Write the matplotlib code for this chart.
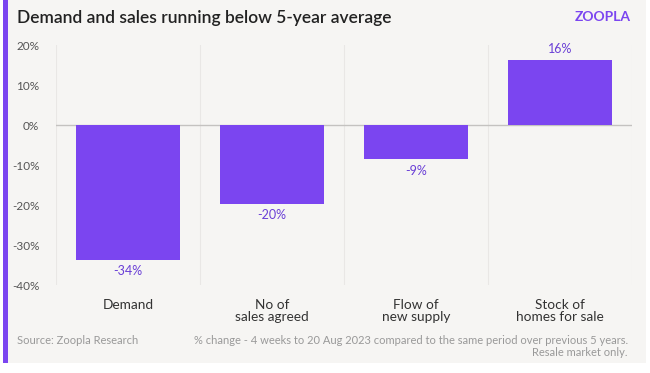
import matplotlib
matplotlib.use("Agg")
import matplotlib.pyplot as plt
from matplotlib.patches import Rectangle

categories = ["Demand", "No of\nsales agreed", "Flow of\nnew supply", "Stock of\nhomes for sale"]
values = [-33.7, -19.7, -8.6, 16.3]
yticks = [20, 10, 0, -10, -20, -30, -40]

plt.rcParams['font.family'] = ['Lato', 'DejaVu Sans']

W, H = 650, 373
fig = plt.figure(figsize=(W/100, H/100), dpi=100)
fig.patch.set_facecolor("white")

bg = "#f6f5f3"
purple = "#7b45f0"
fig.add_artist(Rectangle((3/W, 10/H), 643/W, 1 - 10/H, transform=fig.transFigure,
                         facecolor=bg, edgecolor="none", zorder=-10))
fig.add_artist(Rectangle((3/W, 10/H), 5/W, 1 - 10/H, transform=fig.transFigure,
                         facecolor=purple, edgecolor="none", zorder=-9))

ax = fig.add_axes([56/W, 1 - 285/H, 576/W, 240/H])
ax.set_zorder(5)
ax.set_facecolor("none")
x = list(range(len(categories)))
ax.bar(x, values, width=0.72, color=purple, zorder=3)
ax.set_xlim(-0.5, len(categories) - 0.5)
ax.set_ylim(-40, 20)
ax.axhline(0, color="#c4c2c0", lw=1, zorder=2)
for b in [i - 0.5 for i in range(len(categories) + 1)]:
    ax.axvline(b, color="#e9e7e5", lw=0.8, zorder=1)

for xi, v in zip(x, values):
    if v < 0:
        ax.text(xi, v - 1.3, f"{v:.0f}%", ha="center", va="top", color="#6a3fd6", fontsize=9)
    else:
        ax.text(xi, v + 1.3, f"{v:.0f}%", ha="center", va="bottom", color="#6a3fd6", fontsize=9)

ax.set_yticks(yticks)
ax.set_yticklabels([f"{t}%" for t in yticks], color="#555555", fontsize=8.5)
ax.set_xticks(x)
ax.set_xticklabels(categories, color="#333333", fontsize=9.8, linespacing=1.0, va="top")
ax.tick_params(axis="y", length=0, pad=12)
ax.tick_params(axis="x", length=0, pad=10)
for s in ax.spines.values():
    s.set_visible(False)

fig.text(17/W, 1 - 18/H, "Demand and sales running below 5-year average", fontsize=12.5,
         fontweight="semibold", color="#222222", va="center", ha="left")
fig.text(631/W, 1 - 17/H, "ZOOPLA", fontsize=10, fontweight="bold", color="#7b45f0",
         va="center", ha="right")
fig.text(17/W, 1 - 340/H, "Source: Zoopla Research", fontsize=8, color="#999999",
         va="center", ha="left")
fig.text(628/W, 1 - 340/H,
         "% change - 4 weeks to 20 Aug 2023 compared to the same period over previous 5 years.",
         fontsize=8, color="#999999", va="center", ha="right")
fig.text(628/W, 1 - 352/H, "Resale market only.", fontsize=8, color="#999999",
         va="center", ha="right")

fig.savefig("out.png", dpi=100, facecolor=fig.get_facecolor())
